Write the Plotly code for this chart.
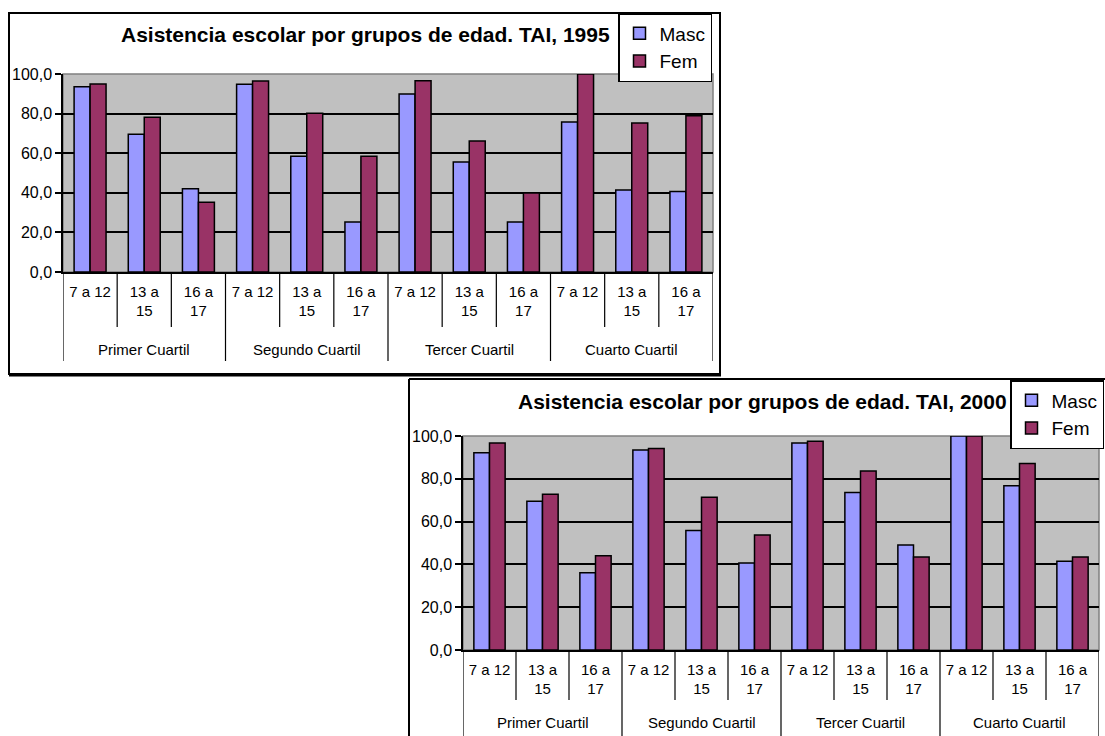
import plotly.graph_objects as go

# datos (asistencia escolar, %)
quartiles = ["Primer Cuartil", "Segundo Cuartil", "Tercer Cuartil", "Cuarto Cuartil"]
age_groups = ["7 a 12", "13 a<br>15", "16 a<br>17"]

masc_1995 = [93.6, 69.6, 42.1, 94.8, 58.4, 25.2, 89.9, 55.5, 25.2, 75.8, 41.4, 40.6]
fem_1995 = [95.0, 78.2, 35.2, 96.5, 80.2, 58.4, 96.6, 66.1, 39.9, 100.0, 75.3, 78.9]
masc_2000 = [92.2, 69.5, 36.1, 93.5, 55.8, 40.7, 96.7, 73.6, 49.1, 100.0, 76.7, 41.5]
fem_2000 = [96.7, 72.8, 44.0, 94.2, 71.4, 53.7, 97.5, 83.7, 43.4, 100.0, 87.1, 43.4]

y_ticks = [0, 20, 40, 60, 80, 100]

W, H = 1105, 736
FONT = "Liberation Sans Narrow, Arial Narrow, Liberation Sans, Arial, sans-serif"
MASC_COLOR = "#9999FF"
FEM_COLOR = "#993366"


def px(x):
    return x / W


def py(y):
    return 1 - y / H


pos = list(range(len(masc_1995)))
ticktext = age_groups * len(quartiles)

fig = go.Figure()

fig.add_trace(go.Bar(x=pos, y=masc_1995, name="Masc", marker_color=MASC_COLOR,
                     marker_line=dict(color="black", width=1.5),
                     xaxis="x", yaxis="y", legend="legend"))
fig.add_trace(go.Bar(x=pos, y=fem_1995, name="Fem", marker_color=FEM_COLOR,
                     marker_line=dict(color="black", width=1.5),
                     xaxis="x", yaxis="y", legend="legend"))
fig.add_trace(go.Bar(x=pos, y=masc_2000, name="Masc", marker_color=MASC_COLOR,
                     marker_line=dict(color="black", width=1.5),
                     xaxis="x2", yaxis="y2", legend="legend2"))
fig.add_trace(go.Bar(x=pos, y=fem_2000, name="Fem", marker_color=FEM_COLOR,
                     marker_line=dict(color="black", width=1.5),
                     xaxis="x2", yaxis="y2", legend="legend2"))

# geometria de cada grafico (pixeles)
charts = [
    dict(x0=63, x1=713, ytop=74, ybot=272, xa="x", ya="y",
         title="Asistencia escolar por grupos de edad. TAI, 1995", title_x=365, title_y=35,
         inner=327, outer=361, qy=349),
    dict(x0=463, x1=1099, ytop=436, ybot=650, xa="x2", ya="y2",
         title="Asistencia escolar por grupos de edad. TAI, 2000", title_x=762, title_y=401,
         inner=700, outer=740, qy=722),
]

shapes = []
annotations = []
for i, c in enumerate(charts):
    sfx = "" if i == 0 else "2"
    fig.update_layout(**{
        "xaxis" + sfx: dict(domain=[px(c["x0"]), px(c["x1"])], range=[-0.5, 11.5],
                            anchor="y" + sfx, tickvals=pos, ticktext=ticktext,
                            showline=True, linecolor="black", linewidth=1.5,
                            showgrid=False, zeroline=False, ticks="", ticklabelstandoff=5,
                            tickfont=dict(family=FONT, size=15, color="black")),
        "yaxis" + sfx: dict(domain=[py(c["ybot"]), py(c["ytop"])], range=[0, 100],
                            anchor="x" + sfx, tickvals=y_ticks, tickformat=".1f",
                            showline=True, linecolor="black", linewidth=1.5,
                            ticks="outside", ticklen=6, tickcolor="black", tickwidth=1.5,
                            showgrid=True, gridcolor="black", gridwidth=1.5, zeroline=False,
                            tickfont=dict(family=FONT, size=16, color="black")),
    })
    # borde gris del area de trazado
    shapes.append(dict(type="rect", xref=c["xa"] + " domain", yref=c["ya"] + " domain",
                       x0=0, x1=1, y0=0, y1=1, line=dict(color="#808080", width=1.5),
                       layer="below"))
    # separadores de categorias
    for b in [k + 0.5 for k in range(-1, 12)]:
        end = c["outer"] if (b + 0.5) % 3 == 0 else c["inner"]
        shapes.append(dict(type="line", xref=c["xa"], yref="paper", x0=b, x1=b,
                           y0=py(c["ybot"]), y1=py(end), line=dict(color="black", width=1.2)))
    for q, name in enumerate(quartiles):
        annotations.append(dict(text=name, xref=c["xa"], yref="paper", x=q * 3 + 1,
                                y=py(c["qy"]), showarrow=False, yanchor="middle",
                                font=dict(family=FONT, size=15, color="black")))
    annotations.append(dict(text="<b>" + c["title"] + "</b>", xref="paper", yref="paper",
                            x=px(c["title_x"]), y=py(c["title_y"]), showarrow=False,
                            xanchor="center", yanchor="middle",
                            font=dict(family=FONT, size=21, color="black")))

# marcos de los graficos
shapes.append(dict(type="rect", xref="paper", yref="paper", x0=px(9), x1=px(720),
                   y0=py(374), y1=py(13), line=dict(color="black", width=2)))
shapes.append(dict(type="line", xref="paper", yref="paper", x0=px(9), x1=px(721),
                   y0=py(375), y1=py(375), line=dict(color="black", width=3)))
shapes.append(dict(type="line", xref="paper", yref="paper", x0=px(409), x1=px(1110),
                   y0=py(379), y1=py(379), line=dict(color="black", width=2)))
shapes.append(dict(type="line", xref="paper", yref="paper", x0=px(409), x1=px(409),
                   y0=py(379), y1=py(740), line=dict(color="black", width=2)))

legend_style = dict(bgcolor="white", bordercolor="black", borderwidth=1.5,
                    font=dict(family=FONT, size=19, color="black"),
                    itemwidth=30, tracegroupgap=0, yanchor="top", xanchor="right")

fig.update_layout(
    width=W, height=H,
    margin=dict(l=0, r=0, t=0, b=0, autoexpand=False),
    paper_bgcolor="white",
    plot_bgcolor="#C0C0C0",
    separators=",.",
    barmode="group",
    bargap=0.41,
    bargroupgap=0,
    showlegend=True,
    legend=dict(x=px(712), y=py(13), **legend_style),
    legend2=dict(x=px(1104), y=py(380), **legend_style),
    shapes=shapes,
    annotations=annotations,
    font=dict(family=FONT, color="black"),
)

fig.write_html("out.html", config={"displayModeBar": False},
               post_script="document.body.style.margin = '0';")
